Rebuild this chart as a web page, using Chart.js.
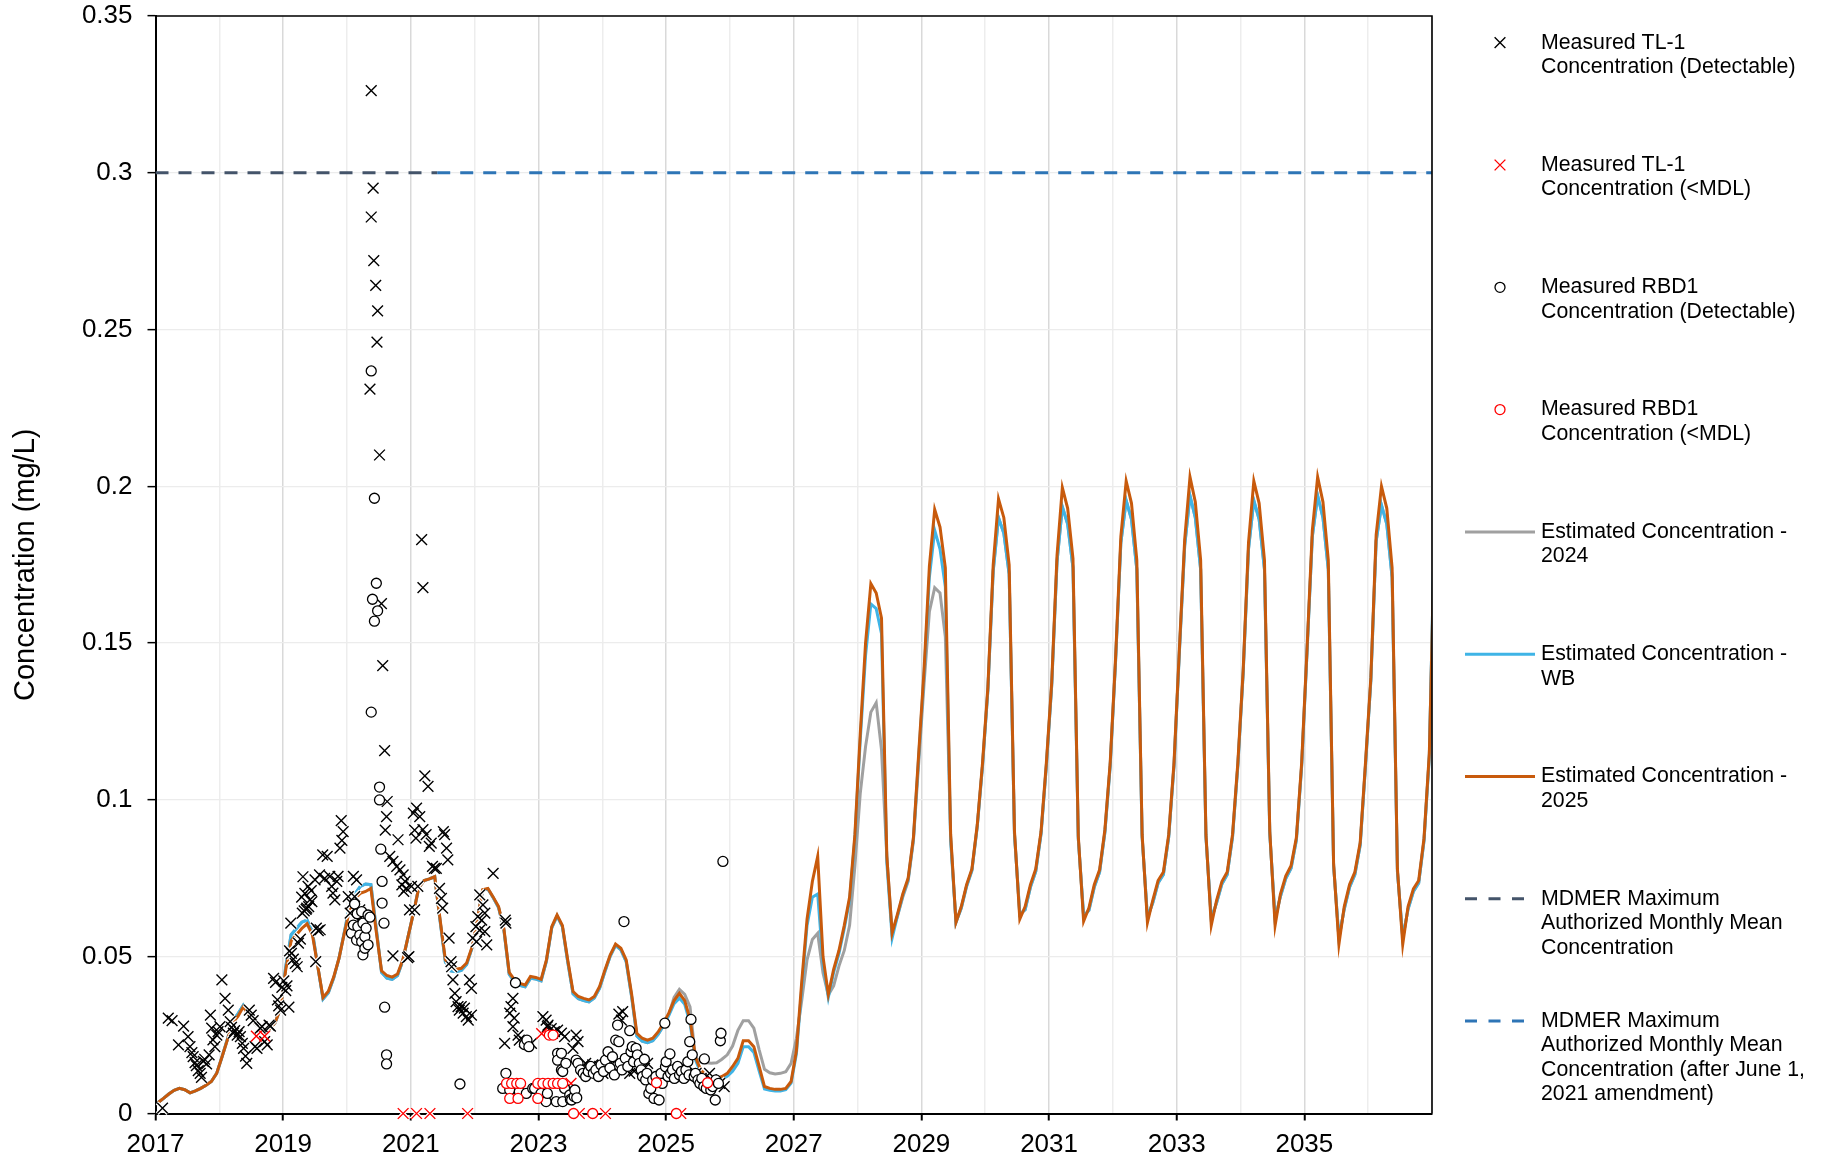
<!DOCTYPE html>
<html>
<head>
<meta charset="utf-8">
<title>Concentration (mg/L)</title>
<script src="https://cdn.jsdelivr.net/npm/chart.js@4.4.1/dist/chart.umd.min.js"></script>
<style>
  html, body { margin: 0; padding: 0; background: #ffffff; }
  #wrap { position: relative; width: 1830px; height: 1162px; }
  canvas { display: block; }
</style>
</head>
<body>
<div id="wrap"><canvas id="chart" width="1830" height="1162"></canvas></div>
<script>
// ---------------------------------------------------------------
// Data
// ---------------------------------------------------------------
const FIRST_YEAR = 2017;
const YEAR_MIN = 2017;
const YEAR_MAX = 2037;
const Y_MAX = 0.35;
const Y_STEP = 0.05;

// MDMER maximum authorized monthly mean concentration (mg/L)
const MDMER_LIMIT = 0.3;
const AMENDMENT_DATE = 2021.414;   // June 1, 2021

// Measured TL-1, detectable  [decimal year, mg/L]
const TL1_DETECTABLE = [
  [2017.11,0.0017],[2017.20,0.0304],[2017.26,0.0296],[2017.36,0.0219],[2017.44,0.0279],[2017.51,0.0245],
  [2017.54,0.0213],[2017.57,0.0194],[2017.59,0.0181],[2017.62,0.0162],[2017.64,0.0153],[2017.67,0.0137],
  [2017.70,0.0128],[2017.72,0.0115],[2017.75,0.0166],[2017.77,0.0173],[2017.80,0.0158],[2017.84,0.0187],
  [2017.86,0.0314],[2017.88,0.0272],[2017.90,0.0235],[2017.93,0.0213],[2017.96,0.0250],[2017.98,0.0261],
  [2018.01,0.0277],[2018.04,0.0426],[2018.09,0.0367],[2018.14,0.0330],[2018.17,0.0293],[2018.19,0.0275],
  [2018.22,0.0256],[2018.24,0.0264],[2018.28,0.0250],[2018.31,0.0261],[2018.33,0.0245],[2018.36,0.0224],
  [2018.38,0.0208],[2018.41,0.0183],[2018.43,0.0160],[2018.47,0.0330],[2018.50,0.0314],[2018.53,0.0296],
  [2018.56,0.0213],[2018.59,0.0208],[2018.64,0.0272],[2018.67,0.0277],[2018.71,0.0229],[2018.75,0.0219],
  [2018.78,0.0282],[2018.80,0.0279],[2018.85,0.0431],[2018.88,0.0418],[2018.91,0.0362],[2018.93,0.0343],
  [2018.96,0.0330],[2018.98,0.0402],
  [2019.01,0.0423],[2019.04,0.0392],[2019.06,0.0407],[2019.09,0.0339],[2019.10,0.0519],[2019.12,0.0607],
  [2019.13,0.0511],[2019.16,0.0492],[2019.19,0.0479],[2019.22,0.0468],[2019.24,0.0543],[2019.27,0.0556],
  [2019.29,0.0690],[2019.30,0.0639],[2019.31,0.0755],[2019.33,0.0646],[2019.34,0.0702],[2019.36,0.0651],
  [2019.37,0.0655],[2019.39,0.0724],[2019.40,0.0660],[2019.42,0.0681],[2019.44,0.0711],[2019.45,0.0676],
  [2019.50,0.0745],[2019.51,0.0484],[2019.52,0.0591],[2019.55,0.0583],[2019.57,0.0761],[2019.58,0.0586],
  [2019.62,0.0825],[2019.65,0.0750],[2019.69,0.0820],[2019.73,0.0756],[2019.76,0.0724],[2019.78,0.0703],
  [2019.81,0.0681],[2019.84,0.0740],[2019.86,0.0756],[2019.89,0.0846],[2019.91,0.0934],[2019.92,0.0871],
  [2019.94,0.0899],
  [2020.02,0.0692],[2020.05,0.0639],[2020.07,0.0670],[2020.10,0.0756],[2020.12,0.0692],[2020.15,0.0745],
  [2020.18,0.0617],[2020.20,0.0649],
  [2020.36,0.2310],[2020.38,0.3262],[2020.38,0.2859],[2020.41,0.2951],[2020.42,0.2720],[2020.45,0.2641],
  [2020.47,0.2460],[2020.48,0.2560],[2020.51,0.2100],[2020.54,0.1626],[2020.56,0.1428],[2020.59,0.1157],
  [2020.60,0.0904],[2020.62,0.0947],[2020.63,0.0995],[2020.67,0.0820],[2020.72,0.0804],[2020.72,0.0503],
  [2020.78,0.0788],[2020.80,0.0873],[2020.83,0.0777],[2020.86,0.0729],[2020.88,0.0761],[2020.89,0.0708],
  [2020.91,0.0740],[2020.93,0.0718],[2020.95,0.0497],[2020.97,0.0500],[2020.98,0.0649],
  [2021.01,0.0724],[2021.04,0.0958],[2021.06,0.0904],[2021.06,0.0649],[2021.08,0.0878],[2021.09,0.0974],
  [2021.11,0.0724],[2021.14,0.0947],[2021.17,0.1830],[2021.19,0.1677],[2021.19,0.0905],[2021.22,0.1077],
  [2021.24,0.0889],[2021.27,0.1043],[2021.29,0.0852],[2021.32,0.0862],[2021.34,0.0788],[2021.37,0.0782],
  [2021.40,0.0782],[2021.45,0.0718],[2021.48,0.0686],[2021.50,0.0655],[2021.51,0.0899],[2021.53,0.0889],
  [2021.56,0.0846],[2021.58,0.0809],[2021.60,0.0559],[2021.63,0.0484],[2021.64,0.0468],[2021.66,0.0426],
  [2021.69,0.0383],[2021.71,0.0357],[2021.74,0.0341],[2021.76,0.0330],[2021.79,0.0341],[2021.82,0.0320],
  [2021.84,0.0336],[2021.87,0.0309],[2021.90,0.0298],[2021.92,0.0426],[2021.95,0.0399],[2021.95,0.0314],
  [2021.97,0.0559],
  [2022.02,0.0596],[2022.03,0.0548],[2022.05,0.0628],[2022.08,0.0697],[2022.08,0.0585],[2022.11,0.0617],
  [2022.13,0.0665],[2022.16,0.0639],[2022.16,0.0580],[2022.19,0.0538],[2022.29,0.0766],[2022.48,0.0617],
  [2022.49,0.0607],[2022.47,0.0224],[2022.55,0.0320],[2022.57,0.0341],[2022.60,0.0367],[2022.60,0.0277],
  [2022.62,0.0304],[2022.68,0.0250],[2022.70,0.0234],[2022.78,0.0229],[2022.89,0.0224],
  [2023.07,0.0309],[2023.12,0.0298],[2023.14,0.0277],[2023.15,0.0282],[2023.20,0.0271],[2023.22,0.0256],
  [2023.25,0.0261],[2023.30,0.0266],[2023.36,0.0256],[2023.41,0.0245],[2023.54,0.0208],[2023.59,0.0250],
  [2023.62,0.0229],[2023.69,0.0150],[2023.74,0.0160],[2023.80,0.0139],[2023.85,0.0155],[2023.90,0.0144],
  [2023.96,0.0150],
  [2024.01,0.0128],[2024.08,0.0150],[2024.14,0.0155],[2024.26,0.0317],[2024.30,0.0298],[2024.32,0.0325],
  [2024.38,0.0140],[2024.43,0.0128],[2024.50,0.0135],[2024.58,0.0150],[2024.66,0.0144],[2024.71,0.0160],
  [2025.16,0.0128],[2025.31,0.0144],[2025.47,0.0128],[2025.55,0.0112],[2025.68,0.0128],[2025.71,0.0107],
  [2025.84,0.0096],[2025.91,0.0086]
];

// Measured TL-1, below method detection limit
const TL1_BELOW_MDL = [
  [2018.58,0.0247],[2018.71,0.0247],[2020.88,0],[2021.09,0],[2021.30,0],[2021.89,0],
  [2023.05,0.0255],[2023.51,0.0096],[2023.64,0],[2024.05,0],[2025.23,0]
];

// Measured RBD1, detectable
const RBD1_DETECTABLE = [
  [2020.07,0.0575],[2020.10,0.0601],[2020.12,0.0668],[2020.15,0.0553],[2020.16,0.0637],[2020.17,0.0596],
  [2020.20,0.0569],[2020.23,0.0644],[2020.23,0.0548],[2020.25,0.0607],[2020.25,0.0506],[2020.28,0.0564],
  [2020.28,0.0527],[2020.30,0.0591],[2020.33,0.0633],[2020.33,0.0538],[2020.36,0.0626],
  [2020.38,0.2368],[2020.43,0.1962],[2020.46,0.1691],[2020.40,0.1640],[2020.48,0.1603],[2020.43,0.1570],
  [2020.38,0.1280],[2020.51,0.1041],[2020.51,0.1000],[2020.53,0.0843],[2020.55,0.0740],[2020.55,0.0671],
  [2020.58,0.0607],[2020.59,0.0339],[2020.62,0.0187],[2020.62,0.0158],
  [2021.77,0.0094],
  [2022.44,0.0080],[2022.49,0.0128],[2022.55,0.0075],[2022.64,0.0417],[2022.70,0.0070],[2022.78,0.0220],
  [2022.81,0.0064],[2022.82,0.0234],[2022.85,0.0213],[2022.91,0.0080],[2022.94,0.0080],
  [2023.04,0.0064],[2023.12,0.0038],[2023.14,0.0064],[2023.28,0.0038],[2023.30,0.0192],[2023.30,0.0170],
  [2023.36,0.0139],[2023.36,0.0192],[2023.38,0.0038],[2023.38,0.0134],[2023.41,0.0080],[2023.43,0.0160],
  [2023.49,0.0059],[2023.50,0.0045],[2023.52,0.0043],[2023.56,0.0054],[2023.57,0.0075],[2023.59,0.0170],
  [2023.60,0.0050],[2023.62,0.0160],[2023.66,0.0139],[2023.70,0.0128],[2023.74,0.0118],[2023.78,0.0134],
  [2023.82,0.0150],[2023.86,0.0128],[2023.90,0.0139],[2023.94,0.0118],[2023.98,0.0155],
  [2024.02,0.0134],[2024.05,0.0170],[2024.09,0.0197],[2024.12,0.0145],[2024.16,0.0181],[2024.19,0.0123],
  [2024.21,0.0234],[2024.24,0.0282],[2024.26,0.0229],[2024.28,0.0160],[2024.31,0.0139],[2024.34,0.0612],
  [2024.36,0.0176],[2024.40,0.0150],[2024.43,0.0264],[2024.45,0.0197],[2024.47,0.0213],[2024.49,0.0165],
  [2024.53,0.0208],[2024.55,0.0187],[2024.58,0.0160],[2024.61,0.0139],[2024.63,0.0118],[2024.66,0.0173],
  [2024.68,0.0107],[2024.70,0.0128],[2024.73,0.0064],[2024.76,0.0080],[2024.79,0.0107],[2024.81,0.0048],
  [2024.84,0.0118],[2024.89,0.0043],[2024.92,0.0128],[2024.94,0.0096],[2024.98,0.0288],[2024.99,0.0149],
  [2025.00,0.0165],[2025.03,0.0118],[2025.06,0.0190],[2025.07,0.0128],[2025.10,0.0139],[2025.13,0.0112],
  [2025.18,0.0150],[2025.21,0.0123],[2025.24,0.0134],[2025.28,0.0112],[2025.31,0.0139],[2025.34,0.0165],
  [2025.36,0.0123],[2025.37,0.0229],[2025.39,0.0300],[2025.41,0.0187],[2025.44,0.0118],[2025.46,0.0128],
  [2025.50,0.0107],[2025.53,0.0096],[2025.56,0.0112],[2025.59,0.0086],[2025.60,0.0174],[2025.63,0.0080],
  [2025.67,0.0096],[2025.70,0.0075],[2025.73,0.0086],[2025.77,0.0043],[2025.78,0.0107],[2025.82,0.0096],
  [2025.85,0.0232],[2025.86,0.0256],[2025.89,0.0804]
];

// Measured RBD1, below method detection limit
const RBD1_BELOW_MDL = [
  [2022.50,0.0096],[2022.58,0.0096],[2022.66,0.0096],[2022.72,0.0096],[2022.55,0.0048],[2022.68,0.0048],
  [2022.99,0.0096],[2023.07,0.0096],[2023.15,0.0096],[2023.23,0.0096],[2023.30,0.0096],[2023.38,0.0096],
  [2022.99,0.0048],[2023.17,0.0250],[2023.23,0.0250],[2023.55,0],[2023.85,0],[2024.85,0.0098],
  [2025.16,0],[2025.65,0.0098]
];

// Estimated monthly concentration, one row per year (Jan..Dec), starting 2017
const EST_2024 = [
  [0.0035,0.0048,0.0062,0.0074,0.0080,0.0076,0.0066,0.0072,0.0080,0.0090,0.0102,0.0128],
  [0.0180,0.0236,0.0295,0.0318,0.0345,0.0318,0.0290,0.0275,0.0265,0.0270,0.0290,0.0335],
  [0.0470,0.0570,0.0590,0.0610,0.0617,0.0580,0.0470,0.0365,0.0385,0.0432,0.0495,0.0578],
  [0.0665,0.0700,0.0724,0.0732,0.0730,0.0590,0.0450,0.0432,0.0428,0.0440,0.0487,0.0565],
  [0.0640,0.0720,0.0743,0.0748,0.0755,0.0615,0.0483,0.0455,0.0452,0.0456,0.0475,0.0527],
  [0.0615,0.0712,0.0716,0.0688,0.0657,0.0586,0.0444,0.0420,0.0409,0.0404,0.0431,0.0429],
  [0.0423,0.0486,0.0592,0.0630,0.0596,0.0484,0.0382,0.0366,0.0360,0.0356,0.0368,0.0400],
  [0.0453,0.0502,0.0536,0.0522,0.0484,0.0375,0.0247,0.0231,0.0226,0.0232,0.0252,0.0280],
  [0.0315,0.0370,0.0396,0.0380,0.0340,0.0180,0.0165,0.0162,0.0160,0.0162,0.0173,0.0187],
  [0.0215,0.0265,0.0296,0.0296,0.0272,0.0203,0.0141,0.0130,0.0126,0.0128,0.0133,0.0160],
  [0.0240,0.0360,0.0490,0.0555,0.0575,0.0448,0.0378,0.0407,0.0470,0.0520,0.0600,0.0790],
  [0.1020,0.1170,0.1280,0.1310,0.1160,0.0820,0.0575,0.0630,0.0690,0.0740,0.0870,0.1120],
  [0.1370,0.1600,0.1677,0.1660,0.1520,0.0880,0.0610,0.0655,0.0725,0.0775,0.0915,0.1110],
  [0.1350,0.1730,0.1900,0.1850,0.1720,0.0890,0.0635,0.0650,0.0722,0.0772,0.0893,0.1110],
  [0.1365,0.1760,0.1935,0.1880,0.1740,0.0876,0.0630,0.0648,0.0722,0.0770,0.0897,0.1110],
  [0.1440,0.1820,0.1955,0.1895,0.1735,0.0882,0.0625,0.0672,0.0735,0.0762,0.0882,0.1110],
  [0.1470,0.1810,0.1970,0.1900,0.1735,0.0882,0.0620,0.0672,0.0732,0.0762,0.0882,0.1110],
  [0.1405,0.1800,0.1955,0.1895,0.1735,0.0892,0.0620,0.0692,0.0749,0.0782,0.0872,0.1110],
  [0.1470,0.1840,0.1970,0.1900,0.1735,0.0790,0.0560,0.0652,0.0722,0.0762,0.0856,0.1110],
  [0.1380,0.1825,0.1940,0.1880,0.1710,0.0772,0.0560,0.0652,0.0708,0.0735,0.0870,0.1140],
  [0.1900]
];

const EST_WB = [
  [0.0035,0.0048,0.0062,0.0074,0.0080,0.0076,0.0066,0.0072,0.0080,0.0090,0.0102,0.0128],
  [0.0180,0.0236,0.0295,0.0318,0.0345,0.0318,0.0290,0.0275,0.0265,0.0270,0.0290,0.0335],
  [0.0470,0.0570,0.0590,0.0610,0.0617,0.0580,0.0470,0.0365,0.0385,0.0432,0.0495,0.0578],
  [0.0665,0.0700,0.0724,0.0732,0.0730,0.0590,0.0450,0.0432,0.0428,0.0440,0.0487,0.0565],
  [0.0640,0.0720,0.0743,0.0748,0.0755,0.0615,0.0483,0.0455,0.0452,0.0456,0.0475,0.0527],
  [0.0615,0.0712,0.0716,0.0688,0.0657,0.0586,0.0444,0.0420,0.0409,0.0404,0.0431,0.0429],
  [0.0423,0.0486,0.0592,0.0630,0.0596,0.0484,0.0382,0.0366,0.0360,0.0356,0.0368,0.0400],
  [0.0453,0.0502,0.0536,0.0522,0.0484,0.0375,0.0247,0.0231,0.0226,0.0232,0.0252,0.0280],
  [0.0312,0.0350,0.0368,0.0348,0.0288,0.0172,0.0130,0.0115,0.0110,0.0104,0.0110,0.0119],
  [0.0135,0.0160,0.0213,0.0213,0.0195,0.0135,0.0078,0.0074,0.0072,0.0072,0.0076,0.0097],
  [0.0190,0.0400,0.0600,0.0690,0.0700,0.0480,0.0370,0.0450,0.0510,0.0590,0.0680,0.0880],
  [0.1190,0.1460,0.1625,0.1610,0.1530,0.0800,0.0560,0.0630,0.0695,0.0745,0.0875,0.1140],
  [0.1400,0.1710,0.1860,0.1800,0.1680,0.0870,0.0610,0.0655,0.0725,0.0775,0.0915,0.1110],
  [0.1350,0.1730,0.1900,0.1850,0.1720,0.0890,0.0635,0.0650,0.0722,0.0772,0.0893,0.1110],
  [0.1365,0.1760,0.1935,0.1880,0.1740,0.0876,0.0630,0.0648,0.0722,0.0770,0.0897,0.1110],
  [0.1440,0.1820,0.1955,0.1895,0.1735,0.0882,0.0625,0.0672,0.0735,0.0762,0.0882,0.1110],
  [0.1470,0.1810,0.1970,0.1900,0.1735,0.0882,0.0620,0.0672,0.0732,0.0762,0.0882,0.1110],
  [0.1405,0.1800,0.1955,0.1895,0.1735,0.0892,0.0620,0.0692,0.0749,0.0782,0.0872,0.1110],
  [0.1470,0.1840,0.1970,0.1900,0.1735,0.0790,0.0560,0.0652,0.0722,0.0762,0.0856,0.1110],
  [0.1380,0.1825,0.1940,0.1880,0.1710,0.0772,0.0560,0.0652,0.0708,0.0735,0.0870,0.1140],
  [0.1900]
];

const EST_2025 = [
  [0.0035,0.0048,0.0062,0.0074,0.0080,0.0076,0.0066,0.0072,0.0080,0.0090,0.0102,0.0128],
  [0.0180,0.0234,0.0290,0.0310,0.0340,0.0315,0.0290,0.0275,0.0265,0.0270,0.0290,0.0335],
  [0.0460,0.0550,0.0570,0.0590,0.0605,0.0570,0.0470,0.0370,0.0390,0.0435,0.0495,0.0575],
  [0.0650,0.0686,0.0702,0.0708,0.0718,0.0580,0.0455,0.0440,0.0435,0.0445,0.0490,0.0565],
  [0.0640,0.0720,0.0743,0.0748,0.0755,0.0620,0.0490,0.0463,0.0460,0.0463,0.0480,0.0530],
  [0.0618,0.0714,0.0718,0.0690,0.0660,0.0590,0.0450,0.0426,0.0415,0.0410,0.0437,0.0434],
  [0.0428,0.0490,0.0596,0.0633,0.0600,0.0490,0.0389,0.0373,0.0367,0.0362,0.0373,0.0405],
  [0.0458,0.0506,0.0540,0.0527,0.0490,0.0383,0.0256,0.0240,0.0234,0.0240,0.0260,0.0288],
  [0.0320,0.0360,0.0383,0.0360,0.0300,0.0180,0.0139,0.0123,0.0118,0.0112,0.0118,0.0128],
  [0.0150,0.0176,0.0232,0.0232,0.0213,0.0150,0.0086,0.0080,0.0077,0.0077,0.0080,0.0102],
  [0.0200,0.0420,0.0620,0.0740,0.0820,0.0500,0.0380,0.0460,0.0520,0.0600,0.0690,0.0890],
  [0.1210,0.1500,0.1690,0.1660,0.1580,0.0820,0.0575,0.0636,0.0700,0.0750,0.0880,0.1150],
  [0.1415,0.1745,0.1926,0.1870,0.1740,0.0890,0.0610,0.0660,0.0730,0.0780,0.0920,0.1120],
  [0.1360,0.1750,0.1960,0.1900,0.1750,0.0900,0.0620,0.0660,0.0730,0.0780,0.0900,0.1120],
  [0.1375,0.1780,0.1996,0.1930,0.1770,0.0884,0.0613,0.0656,0.0730,0.0777,0.0905,0.1120],
  [0.1450,0.1840,0.2017,0.1946,0.1765,0.0890,0.0609,0.0680,0.0743,0.0770,0.0890,0.1120],
  [0.1480,0.1830,0.2030,0.1950,0.1765,0.0890,0.0600,0.0680,0.0740,0.0770,0.0890,0.1120],
  [0.1415,0.1820,0.2017,0.1946,0.1765,0.0900,0.0600,0.0700,0.0757,0.0790,0.0880,0.1120],
  [0.1480,0.1860,0.2030,0.1950,0.1765,0.0797,0.0540,0.0660,0.0730,0.0770,0.0864,0.1120],
  [0.1390,0.1845,0.2000,0.1930,0.1740,0.0780,0.0540,0.0660,0.0716,0.0743,0.0878,0.1150],
  [0.1850]
];

const LABELS = {
  tl1Det:  'Measured TL-1\nConcentration (Detectable)',
  tl1Mdl:  'Measured TL-1\nConcentration (<MDL)',
  rbdDet:  'Measured RBD1\nConcentration (Detectable)',
  rbdMdl:  'Measured RBD1\nConcentration (<MDL)',
  est2024: 'Estimated Concentration -\n2024',
  estWB:   'Estimated Concentration -\nWB',
  est2025: 'Estimated Concentration -\n2025',
  mdmer:   'MDMER Maximum\nAuthorized Monthly Mean\nConcentration',
  mdmer21: 'MDMER Maximum\nAuthorized Monthly Mean\nConcentration (after June 1,\n2021 amendment)'
};

// ---------------------------------------------------------------
// Styling helpers
// ---------------------------------------------------------------
const FONT = '"Liberation Sans", Arial, Helvetica, sans-serif';
const COLORS = {
  black: '#000000',
  red: '#ff0000',
  gray: '#a0a0a0',
  wb: '#3fb4e6',
  orange: '#c85a0c',
  mdmer: '#44546a',
  mdmer21: '#2e75b6'
};
const CROSS_RADIUS = 7.6;   // crossRot arm reach -> about 11 px wide
const CIRCLE_RADIUS = 5;

const toPoints = pairs => pairs.map(p => ({ x: p[0], y: p[1] }));
const monthly = rows => {
  const pts = [];
  rows.forEach((vals, i) => vals.forEach((v, m) => pts.push({ x: FIRST_YEAR + i + (m + 0.5) / 12, y: v })));
  return pts;
};

const scatterBase = { type: 'scatter', showLine: false, clip: false };
const lineBase = { type: 'line', pointRadius: 0, borderWidth: 3, tension: 0, fill: false };

// white halo under the "x" markers so the estimate lines break around them
const halo = (pairs, order) => Object.assign({}, scatterBase, {
  label: '', data: toPoints(pairs), pointStyle: 'crossRot', pointRadius: CROSS_RADIUS,
  borderColor: '#ffffff', backgroundColor: '#ffffff', borderWidth: 4, kind: 'halo', order
});

const datasets = [
  Object.assign({}, scatterBase, { label: LABELS.tl1Det, data: toPoints(TL1_DETECTABLE), pointStyle: 'crossRot',
    pointRadius: CROSS_RADIUS, borderColor: COLORS.black, borderWidth: 1.4, kind: 'cross', order: 4 }),
  Object.assign({}, scatterBase, { label: LABELS.tl1Mdl, data: toPoints(TL1_BELOW_MDL), pointStyle: 'crossRot',
    pointRadius: CROSS_RADIUS, borderColor: COLORS.red, borderWidth: 1.4, kind: 'cross', order: 3 }),
  Object.assign({}, scatterBase, { label: LABELS.rbdDet, data: toPoints(RBD1_DETECTABLE), pointStyle: 'circle',
    pointRadius: CIRCLE_RADIUS, borderColor: COLORS.black, backgroundColor: '#ffffff', borderWidth: 1.3, kind: 'circle', order: 2 }),
  Object.assign({}, scatterBase, { label: LABELS.rbdMdl, data: toPoints(RBD1_BELOW_MDL), pointStyle: 'circle',
    pointRadius: CIRCLE_RADIUS, borderColor: COLORS.red, backgroundColor: '#ffffff', borderWidth: 1.3, kind: 'circle', order: 1 }),
  Object.assign({}, lineBase, { label: LABELS.est2024, data: monthly(EST_2024), borderColor: COLORS.gray, kind: 'line', order: 7 }),
  Object.assign({}, lineBase, { label: LABELS.estWB, data: monthly(EST_WB), borderColor: COLORS.wb, kind: 'line', order: 6 }),
  Object.assign({}, lineBase, { label: LABELS.est2025, data: monthly(EST_2025), borderColor: COLORS.orange, kind: 'line', order: 5 }),
  Object.assign({}, lineBase, { label: LABELS.mdmer, data: [{ x: YEAR_MIN, y: MDMER_LIMIT }, { x: AMENDMENT_DATE, y: MDMER_LIMIT }],
    borderColor: COLORS.mdmer, borderDash: [13, 10], kind: 'dash', order: 9 }),
  Object.assign({}, lineBase, { label: LABELS.mdmer21, data: [{ x: AMENDMENT_DATE, y: MDMER_LIMIT }, { x: YEAR_MAX, y: MDMER_LIMIT }],
    borderColor: COLORS.mdmer21, borderDash: [13, 10], kind: 'dash', order: 8 }),
  halo(TL1_DETECTABLE, 4.6),
  halo(TL1_BELOW_MDL, 4.5)
];

// ---------------------------------------------------------------
// Plugins: plot frame and the side legend
// ---------------------------------------------------------------
const frame = {
  id: 'frame',
  afterDraw(chart) {
    const { ctx, chartArea: a } = chart;
    ctx.save();
    ctx.strokeStyle = '#000';
    ctx.lineWidth = 1.6;
    ctx.beginPath();
    ctx.moveTo(a.left, a.top); ctx.lineTo(a.right, a.top); ctx.lineTo(a.right, a.bottom);
    ctx.stroke();
    ctx.restore();
  }
};

const LEGEND = { symbolLeft: 1465, symbolRight: 1535, textLeft: 1541, top: 42.7, step: 122.3, lineHeight: 24.5, fontSize: 21.3 };

const sideLegend = {
  id: 'sideLegend',
  afterDraw(chart) {
    const ctx = chart.ctx;
    const mid = (LEGEND.symbolLeft + LEGEND.symbolRight) / 2;
    const arm = CROSS_RADIUS * Math.SQRT1_2;
    ctx.save();
    chart.data.datasets.filter(ds => ds.kind !== 'halo').forEach((ds, i) => {
      const y = LEGEND.top + i * LEGEND.step;
      ctx.setLineDash([]);
      if (ds.kind === 'cross') {
        ctx.beginPath();
        ctx.moveTo(mid - arm, y - arm); ctx.lineTo(mid + arm, y + arm);
        ctx.moveTo(mid + arm, y - arm); ctx.lineTo(mid - arm, y + arm);
        ctx.lineWidth = ds.borderWidth; ctx.strokeStyle = ds.borderColor; ctx.stroke();
      } else if (ds.kind === 'circle') {
        ctx.beginPath();
        ctx.arc(mid, y, CIRCLE_RADIUS, 0, Math.PI * 2);
        ctx.fillStyle = '#fff'; ctx.fill();
        ctx.lineWidth = ds.borderWidth; ctx.strokeStyle = ds.borderColor; ctx.stroke();
      } else {
        ctx.beginPath();
        ctx.setLineDash(ds.kind === 'dash' ? [12, 11.5] : []);
        ctx.lineWidth = 3; ctx.strokeStyle = ds.borderColor;
        ctx.moveTo(LEGEND.symbolLeft, y); ctx.lineTo(LEGEND.symbolRight, y);
        ctx.stroke();
        ctx.setLineDash([]);
      }
      ctx.fillStyle = '#000';
      ctx.font = LEGEND.fontSize + 'px ' + FONT;
      ctx.textBaseline = 'middle';
      ctx.textAlign = 'left';
      ds.label.split('\n').forEach((t, k) => ctx.fillText(t, LEGEND.textLeft, y + k * LEGEND.lineHeight));
    });
    ctx.restore();
  }
};

// ---------------------------------------------------------------
// Chart
// ---------------------------------------------------------------
Chart.defaults.font.family = FONT;
Chart.defaults.color = '#000';

const isOddYear = v => Math.round(v) % 2 === 1;

new Chart(document.getElementById('chart'), {
  type: 'scatter',
  data: { datasets },
  plugins: [frame, sideLegend],
  options: {
    responsive: false,
    animation: false,
    events: [],
    layout: { padding: { left: 0, right: 398, top: 16, bottom: 0 } },
    plugins: { legend: { display: false }, tooltip: { enabled: false } },
    scales: {
      x: {
        type: 'linear',
        min: YEAR_MIN,
        max: YEAR_MAX,
        ticks: {
          stepSize: 1,
          autoSkip: false,
          maxRotation: 0,
          padding: 9,
          color: '#000',
          font: { size: 26 },
          callback: v => (isOddYear(v) && v < YEAR_MAX) ? String(Math.round(v)) : ''
        },
        grid: {
          color: c => (c.tick && isOddYear(c.tick.value)) ? '#d9d9d9' : '#ededed',
          lineWidth: 1.5,
          tickLength: 7,
          tickWidth: 2,
          tickColor: c => (c.tick && isOddYear(c.tick.value) && c.tick.value < YEAR_MAX) ? '#000' : 'rgba(0,0,0,0)'
        },
        border: { display: true, color: '#000', width: 2 },
        afterFit(scale) {
          scale.height = 48.5;
          scale.paddingLeft = 0;
          scale.paddingRight = 0;
        }
      },
      y: {
        type: 'linear',
        min: 0,
        max: Y_MAX,
        ticks: {
          stepSize: Y_STEP,
          padding: 15,
          color: '#000',
          font: { size: 26 },
          callback: v => String(+v.toFixed(2))
        },
        grid: {
          color: '#ececec',
          lineWidth: 1.3,
          tickLength: 8,
          tickWidth: 1.5,
          tickColor: '#000'
        },
        border: { display: true, color: '#000', width: 2 },
        title: {
          display: true,
          text: 'Concentration (mg/L)',
          color: '#000',
          font: { size: 29 },
          padding: { top: 9, bottom: 0 }
        },
        afterFit(scale) {
          scale.width = 155.5;
          scale.paddingTop = 0;
          scale.paddingBottom = 0;
        }
      }
    }
  }
});
</script>
</body>
</html>
